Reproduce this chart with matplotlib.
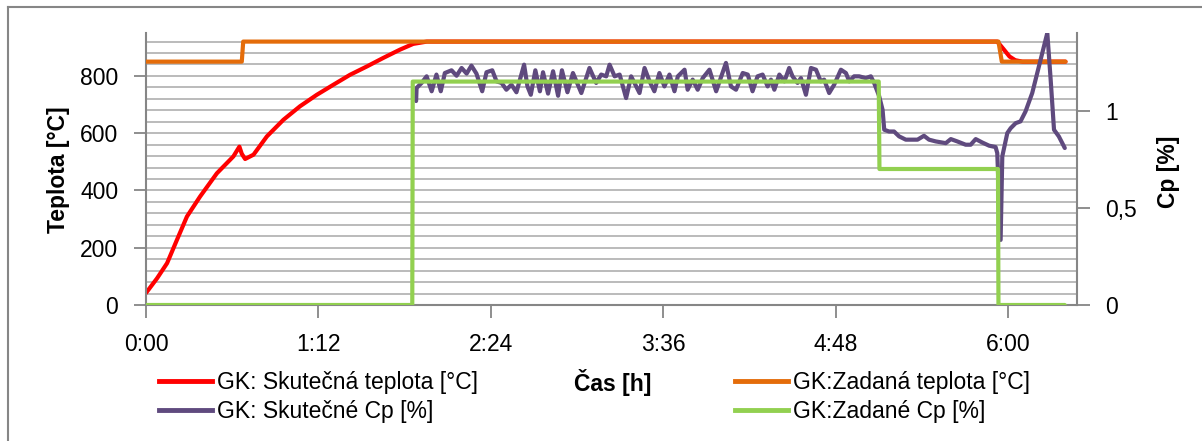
#!/usr/bin/env python3

"""
GK teplota a Cp v case - prepis grafu z Excelu.
output: out.png
"""

import matplotlib.pyplot as plt
from matplotlib.lines import Line2D
from matplotlib.ticker import FuncFormatter

plt.rcParams['font.family'] = ['Liberation Sans', 'DejaVu Sans']
plt.rcParams['font.size'] = 16.5

# cas v minutach
T_REAL_T = [0, 4.6, 8.8, 12.9, 17.1, 22.6, 29.6, 36.5, 39.0, 40.0, 41.4, 44.9,
            50.5, 57.4, 64.3, 71.3, 78.2, 85.2, 92.2, 99.1, 106.1, 111.6, 117.3,
            200, 300, 355.5, 358, 360.6, 363, 366, 384]
T_REAL = [42, 93, 146, 227, 309, 379, 460, 519, 553, 528, 510, 525,
          589, 647, 694, 734, 769, 804, 833, 863, 892, 912, 920,
          920, 920, 920, 895, 868, 855, 850, 850]

T_SET_T = [0, 40.0, 40.6, 356.0, 357.4, 384]
T_SET = [850, 850, 920, 920, 850, 850]

CP_SET_T = [0, 111.2, 111.4, 306.0, 306.3, 355.8, 356.0, 383.7]
CP_SET = [0, 0, 1.15, 1.15, 0.70, 0.70, 0, 0]

CP_REAL_T = [112.8, 113.0, 115.1, 117.2, 119.3, 121.3, 123.1, 124.8, 127.6, 129.7,
             131.8, 133.9, 135.9, 138.0, 140.4, 142.2, 144.6, 146.4, 148.5, 150.5,
             152.6, 154.7, 157.9, 159.3, 160.7, 162.6, 164.5, 165.8, 167.9, 170.0,
             172.1, 173.7, 176.0, 178.3, 181.8, 185.2, 188.0, 190.1, 192.2, 193.6,
             195.7, 197.8, 200.5, 202.6, 204.7, 206.1, 208.2, 210.3, 212.3, 214.4,
             216.5, 218.6, 220.7, 222.1, 224.9, 226.2, 228.3, 230.4, 232.5, 235.3,
             238.1, 242.2, 244.3, 246.4, 249.2, 251.3, 253.3, 255.4, 257.5, 259.6,
             261.0, 262.4, 264.5, 266.6, 268.6, 270.0, 272.1, 273.5, 275.6, 277.7,
             279.8, 281.8, 283.2, 285.3, 287.4, 290.2, 292.3, 293.7, 295.7, 297.8,
             300.6, 302.7, 304.1, 306.2, 307.6, 308.3, 310.3, 312.4, 314.5, 317.3,
             322.2, 324.9, 327.0, 329.8, 334.0, 336.1, 338.8, 342.3, 344.4, 346.5,
             349.3, 352.1, 354.8, 355.5, 356.9, 357.6, 359.7, 361.1, 363.2, 365.2,
             367.3, 370.1, 372.9, 376.4, 377.8, 379.2, 381.2, 383.7]
CP_REAL = [1.05, 1.117, 1.143, 1.177, 1.100, 1.186, 1.100, 1.194, 1.208, 1.180,
           1.220, 1.191, 1.232, 1.191, 1.100, 1.198, 1.208, 1.151, 1.143, 1.108,
           1.134, 1.095, 1.237, 1.125, 1.082, 1.208, 1.100, 1.198, 1.088, 1.203,
           1.077, 1.208, 1.095, 1.194, 1.091, 1.220, 1.143, 1.186, 1.177, 1.237,
           1.177, 1.186, 1.065, 1.177, 1.125, 1.091, 1.220, 1.151, 1.100, 1.194,
           1.125, 1.186, 1.100, 1.177, 1.211, 1.108, 1.160, 1.108, 1.168, 1.211,
           1.100, 1.246, 1.125, 1.108, 1.194, 1.186, 1.100, 1.177, 1.186, 1.125,
           1.160, 1.108, 1.186, 1.151, 1.220, 1.177, 1.143, 1.168, 1.082, 1.220,
           1.211, 1.151, 1.160, 1.091, 1.134, 1.211, 1.194, 1.151, 1.177, 1.177,
           1.168, 1.177, 1.142, 1.074, 1.005, 0.902, 0.893, 0.893, 0.868, 0.851,
           0.851, 0.871, 0.851, 0.842, 0.833, 0.854, 0.842, 0.825, 0.825, 0.854,
           0.836, 0.820, 0.813, 0.782, 0.335, 0.765, 0.885, 0.910, 0.936, 0.945,
           0.996, 1.091, 1.228, 1.400, 1.160, 0.902, 0.868, 0.808]

XTICKS = [0, 72, 144, 216, 288, 360]
XLABELS = ["0:00", "1:12", "2:24", "3:36", "4:48", "6:00"]

GRAY = "#868686"
W, H = 1202, 441

fig = plt.figure(figsize=(W / 100, H / 100), dpi=100)
ax = fig.add_axes([146 / W, 1 - 305 / H, (1077 - 146) / W, (305 - 33) / H])
ax2 = ax.twinx()

# vedlejsi mrizka po 40 °C
for y in range(40, 950, 40):
    ax.axhline(y, color="#b5b5b5", lw=1.3, zorder=0)

line_kw = dict(lw=3.0, solid_joinstyle="round", solid_capstyle="round")
ax.plot(T_REAL_T, T_REAL, color="#ff0000", zorder=2, **line_kw)
ax.plot(T_SET_T, T_SET, color="#e46c0a", zorder=3, **line_kw)
ax2.plot(CP_REAL_T, CP_REAL, color="#5f4a7e", zorder=2, **line_kw)
ax2.plot(CP_SET_T, CP_SET, color="#92d050", zorder=3, **line_kw)

ax.set_xlim(0, 388.8)
ax.set_ylim(0, 950)
ax2.set_ylim(0, 1.4)
ax.set_xticks(XTICKS)
ax.set_xticklabels(XLABELS)
ax.set_yticks([0, 200, 400, 600, 800])
ax2.set_yticks([0, 0.5, 1])
ax2.yaxis.set_major_formatter(FuncFormatter(lambda v, p: ("%g" % v).replace(".", ",")))

for a in (ax, ax2):
    for s in a.spines.values():
        s.set_visible(False)
    a.tick_params(direction="out", length=9, width=1.3, color=GRAY, pad=11)
ax.spines["left"].set_visible(True)
ax.spines["bottom"].set_visible(True)
ax2.spines["right"].set_visible(True)
for a, s in ((ax, "left"), (ax, "bottom"), (ax2, "right")):
    a.spines[s].set_color(GRAY)
    a.spines[s].set_linewidth(1.5)

fig.text(58 / W, 1 - 170 / H, "Teplota [°C]", rotation=90, weight="bold",
         ha="center", va="center")
fig.text(1168 / W, 1 - 172 / H, "Cp [%]", rotation=90, weight="bold",
         ha="center", va="center")
fig.text(613 / W, 1 - 383 / H, "Čas [h]", weight="bold", ha="center", va="center")

h_red = Line2D([], [], color="#ff0000", lw=3.5)
h_org = Line2D([], [], color="#e46c0a", lw=3.5)
h_pur = Line2D([], [], color="#5f4a7e", lw=3.5)
h_grn = Line2D([], [], color="#92d050", lw=3.5)
leg_kw = dict(loc="center left", frameon=False, borderpad=0, borderaxespad=0,
              handlelength=2.3, handletextpad=0.25, labelspacing=0.3)
fig.legend([h_red, h_pur], ["GK: Skutečná teplota [°C]", "GK: Skutečné Cp [%]"],
           bbox_to_anchor=(159 / W, 1 - 397 / H), **leg_kw)
fig.legend([h_org, h_grn], ["GK:Zadaná teplota [°C]", "GK:Zadané Cp [%]"],
           bbox_to_anchor=(735 / W, 1 - 397 / H), **leg_kw)

# ramecek grafu
fig.add_artist(Line2D([7.5 / W, 1], [1 - 7 / H, 1 - 7 / H], transform=fig.transFigure,
                      color=GRAY, lw=1.5))
fig.add_artist(Line2D([7.5 / W, 7.5 / W], [0, 1 - 7 / H], transform=fig.transFigure,
                      color=GRAY, lw=1.5))

fig.savefig("out.png", dpi=100)
